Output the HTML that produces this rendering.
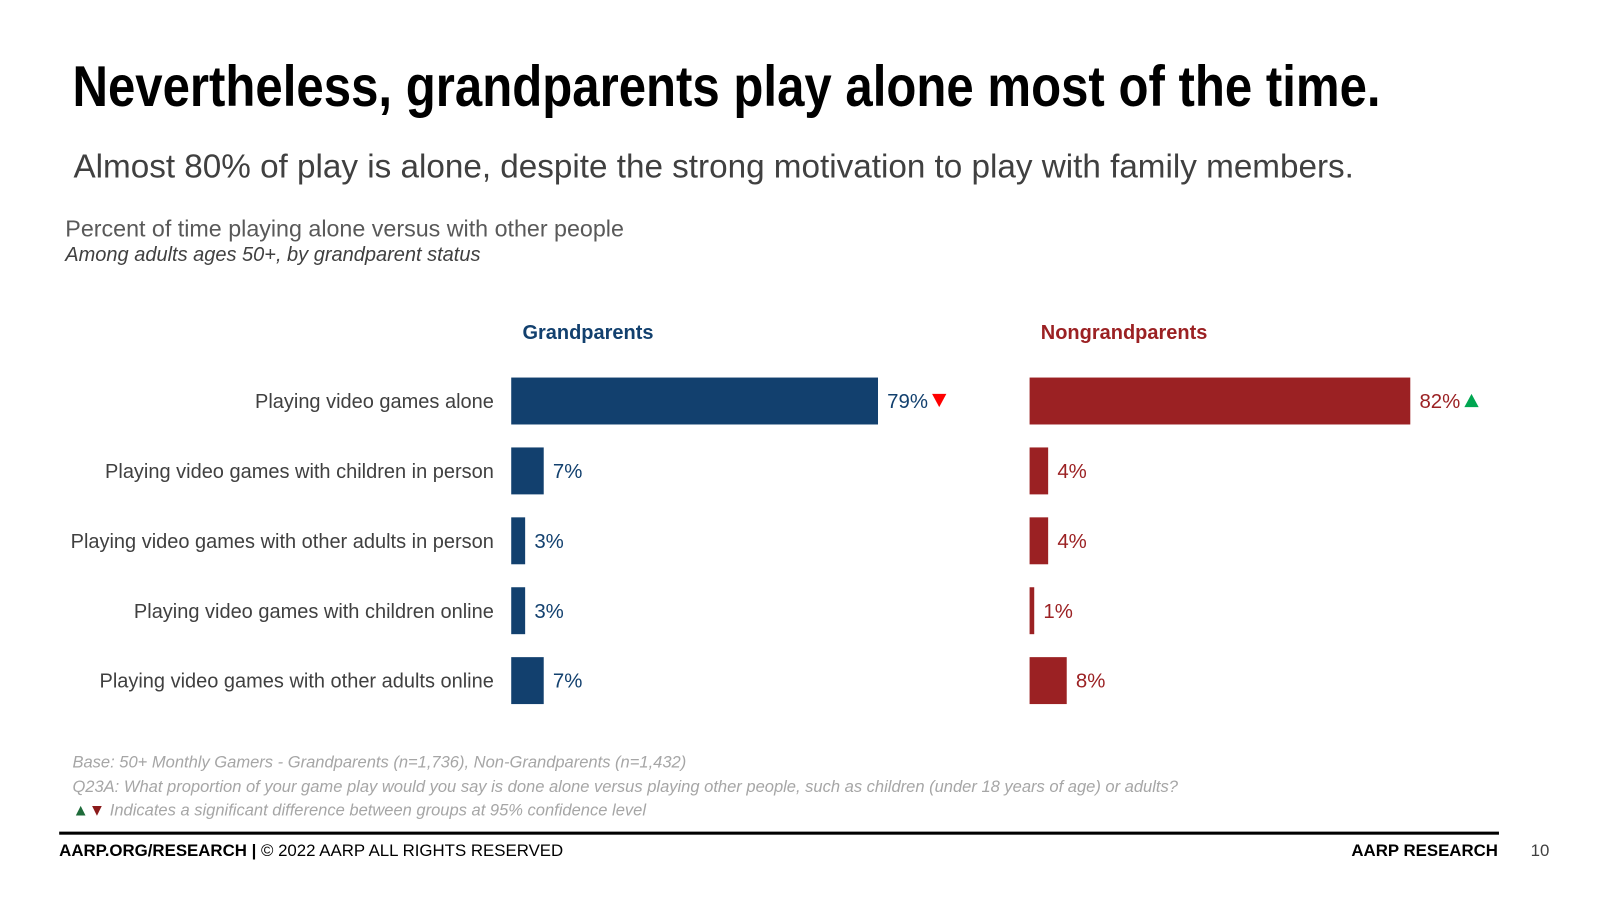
<!DOCTYPE html>
<html><head><meta charset="utf-8"><style>
html,body{margin:0;width:1600px;height:900px;background:#fff;overflow:hidden}
#wrap{position:absolute;left:0;top:0;width:1568px;height:882px;transform:scale(1.0204);transform-origin:0 0;font-family:"Liberation Sans",sans-serif}
.a{position:absolute;white-space:nowrap}
</style></head><body>
<div id="wrap">
<div class="a" style="left:71px;top:52px;font-weight:bold;font-size:56px;color:#000;transform:scaleX(0.86);transform-origin:0 0">Nevertheless, grandparents play alone most of the time.</div>
<div class="a" style="left:72px;top:144px;font-size:32.6px;color:#404040">Almost 80% of play is alone, despite the strong motivation to play with family members.</div>
<div class="a" style="left:64px;top:211px;font-size:22.8px;color:#595959">Percent of time playing alone versus with other people</div>
<div class="a" style="left:64px;top:239px;font-size:19.6px;font-style:italic;color:#404040">Among adults ages 50+, by grandparent status</div>
<svg id="chart" width="1568" height="882" style="position:absolute;left:0;top:0"></svg>
<div class="a" style="left:71px;top:738px;font-size:16.2px;font-style:italic;color:#a6a6a6">Base: 50+ Monthly Gamers - Grandparents (n=1,736), Non-Grandparents (n=1,432)</div>
<div class="a" style="left:71px;top:762px;font-size:16.2px;font-style:italic;color:#a6a6a6">Q23A: What proportion of your game play would you say is done alone versus playing other people, such as children (under 18 years of age) or adults?</div>
<div class="a" style="left:71px;top:785px;font-size:16.2px;font-style:italic;color:#a6a6a6"><span style="color:#1e6b3a;font-style:normal">▲</span><span style="color:#8b1a1a;font-style:normal">▼</span> Indicates a significant difference between groups at 95% confidence level</div>
<div class="a" style="left:58px;top:815px;width:1411px;height:3px;background:#000"></div>
<div class="a" style="left:58px;top:825px;font-size:16.5px;color:#000"><b>AARP.ORG/RESEARCH |</b> © 2022 AARP ALL RIGHTS RESERVED</div>
<div class="a" style="right:100px;top:825px;font-size:16.5px;font-weight:bold;color:#000">AARP RESEARCH</div>
<div class="a" style="left:1500px;top:825px;font-size:16.5px;color:#404040">10</div>
</div>
<script>
const categories=["Playing video games alone","Playing video games with children in person","Playing video games with other adults in person","Playing video games with children online","Playing video games with other adults online"];
const grandparents=[79,7,3,3,7];
const nongrandparents=[82,4,4,1,8];
const gpMarks=["down","","","",""];
const ngMarks=["up","","","",""];
const svg=document.getElementById('chart');
const NS='http://www.w3.org/2000/svg';
const scale=4.55;
const x=v=>v*scale;
const rowY=i=>393+i*68.5;
function mk(tag,attrs,txt){const e=document.createElementNS(NS,tag);for(const k in attrs)e.setAttribute(k,attrs[k]);if(txt!==undefined)e.textContent=txt;svg.appendChild(e);return e;}
function series(title,vals,marks,x0,color,nm){
  const t=mk('text',{x:x0+11,y:332,'font-size':19.6,'font-weight':'bold',fill:color},title);
  
  
  vals.forEach((v,i)=>{
    const cy=rowY(i);
    const r=mk('rect',{x:x0,y:cy-23,width:x(v),height:46,fill:color});
    
    
    const lx=x0+x(v)+9;
    const l=mk('text',{x:lx,y:cy+7,'font-size':20,fill:color},v+'%');
    
    
    if(marks[i]){
      const ax=lx+l.getComputedTextLength()+4;
      const pts=marks[i]==='down'?`${ax},${cy-7} ${ax+14},${cy-7} ${ax+7},${cy+6}`:`${ax},${cy+6} ${ax+14},${cy+6} ${ax+7},${cy-7}`;
      const p=mk('polygon',{points:pts,fill:marks[i]==='down'?'#ff0000':'#00a651'});
      
      
    }
  });
}
categories.forEach((c,i)=>{
  const t=mk('text',{x:484,y:rowY(i)+7,'font-size':19.6,fill:'#404040','text-anchor':'end'},c);
  
  
});
series('Grandparents',grandparents,gpMarks,501,'#12406e','grandparents');
series('Nongrandparents',nongrandparents,ngMarks,1009,'#9b2123','nongrandparents');
</script>
</body></html>
